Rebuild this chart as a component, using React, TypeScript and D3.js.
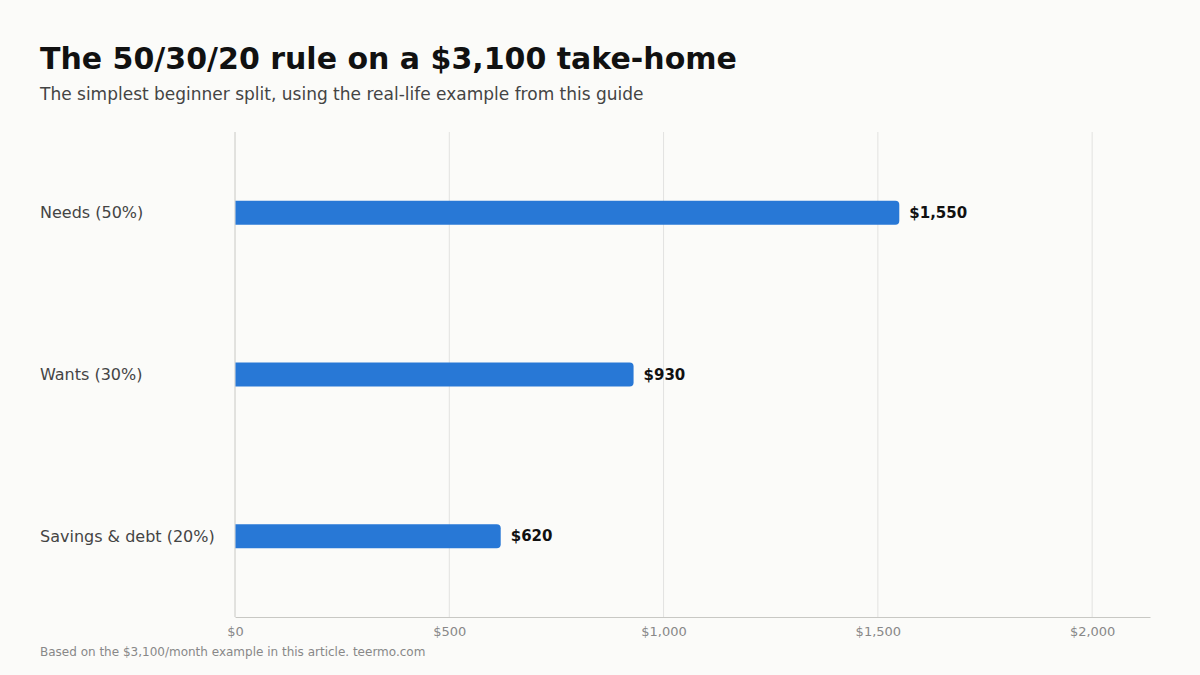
import React, {useEffect, useRef} from 'react';
import * as d3 from "d3";

const categories = ["Needs (50%)", "Wants (30%)", "Savings & debt (20%)"];
const amounts = [1550, 930, 620];
const tickValues = [0, 500, 1000, 1500, 2000];

const App = () => {
  const chartRef = useRef<SVGSVGElement>(null);

  useEffect(() => {
    const width = 1200;
    const height = 675;
    const margin = {top: 132, bottom: 58, right: 50, left: 235};
    const font = "'DejaVu Sans', sans-serif";

    const svg = d3.select(chartRef.current)
      .attr("width", width)
      .attr("height", height)
      .style("background-color", "#fbfbf9")
      .style("font-family", font);

    svg.selectAll("*").remove();

    svg.append("text")
      .attr("x", 40).attr("y", 69)
      .attr("font-size", 30).attr("font-weight", "bold")
      .attr("fill", "#111")
      .text("The 50/30/20 rule on a $3,100 take-home");

    svg.append("text")
      .attr("x", 40).attr("y", 100)
      .attr("font-size", 17)
      .attr("fill", "#444")
      .text("The simplest beginner split, using the real-life example from this guide");

    const xScale = d3.scaleLinear()
      .domain([0, 2135])
      .range([margin.left, width - margin.right]);

    const yScale = d3.scaleBand()
      .domain(categories)
      .range([margin.top, height - margin.bottom]);

    const plotBottom = height - margin.bottom;

    // grid
    svg.append("g")
      .selectAll("line")
      .data(tickValues.filter(d => d > 0))
      .join("line")
      .attr("x1", d => xScale(d)).attr("x2", d => xScale(d))
      .attr("y1", margin.top).attr("y2", plotBottom)
      .attr("stroke", "#e2e2e0").attr("stroke-width", 1);

    // x axis
    const xAxis = svg.append("g")
      .attr("transform", `translate(0, ${plotBottom})`)
      .call(d3.axisBottom(xScale).tickValues(tickValues).tickSize(0).tickPadding(10)
        .tickFormat(d => "$" + d3.format(",")(d as number)));
    xAxis.select(".domain").attr("stroke", "#c8c8c4");
    xAxis.selectAll("text").attr("fill", "#888").attr("font-size", 13).attr("font-family", font);

    // y axis line
    svg.append("line")
      .attr("x1", margin.left).attr("x2", margin.left)
      .attr("y1", margin.top).attr("y2", plotBottom)
      .attr("stroke", "#c8c8c4");

    const barH = 24;
    const r = 4;
    const rows = categories.map((c, i) => ({c, v: amounts[i]}));

    svg.append("g")
      .selectAll("path")
      .data(rows)
      .join("path")
      .attr("fill", "#2878d6")
      .attr("d", d => {
        const x0 = xScale(0) + 0.5;
        const x1 = xScale(d.v);
        const y0 = yScale(d.c)! + yScale.bandwidth() / 2 - barH / 2;
        const y1 = y0 + barH;
        return `M${x0},${y0}H${x1 - r}Q${x1},${y0} ${x1},${y0 + r}V${y1 - r}Q${x1},${y1} ${x1 - r},${y1}H${x0}Z`;
      });

    svg.append("g")
      .selectAll("text")
      .data(rows)
      .join("text")
      .attr("x", d => xScale(d.v) + 10)
      .attr("y", d => yScale(d.c)! + yScale.bandwidth() / 2)
      .attr("dy", "0.35em")
      .attr("font-size", 15).attr("font-weight", "bold")
      .attr("fill", "#111")
      .text(d => "$" + d3.format(",")(d.v));

    svg.append("g")
      .selectAll("text")
      .data(categories)
      .join("text")
      .attr("x", 40)
      .attr("y", d => yScale(d)! + yScale.bandwidth() / 2)
      .attr("dy", "0.35em")
      .attr("font-size", 16)
      .attr("fill", "#444")
      .text(d => d);

    svg.append("text")
      .attr("x", 40).attr("y", 656)
      .attr("font-size", 12)
      .attr("fill", "#888")
      .text("Based on the $3,100/month example in this article. teermo.com");
  }, []);

  return (
    <div style={{position: "absolute", top: 0, left: 0}}>
      <svg ref={chartRef} style={{display: "block"}}/>
    </div>
  );
};

export default App;
